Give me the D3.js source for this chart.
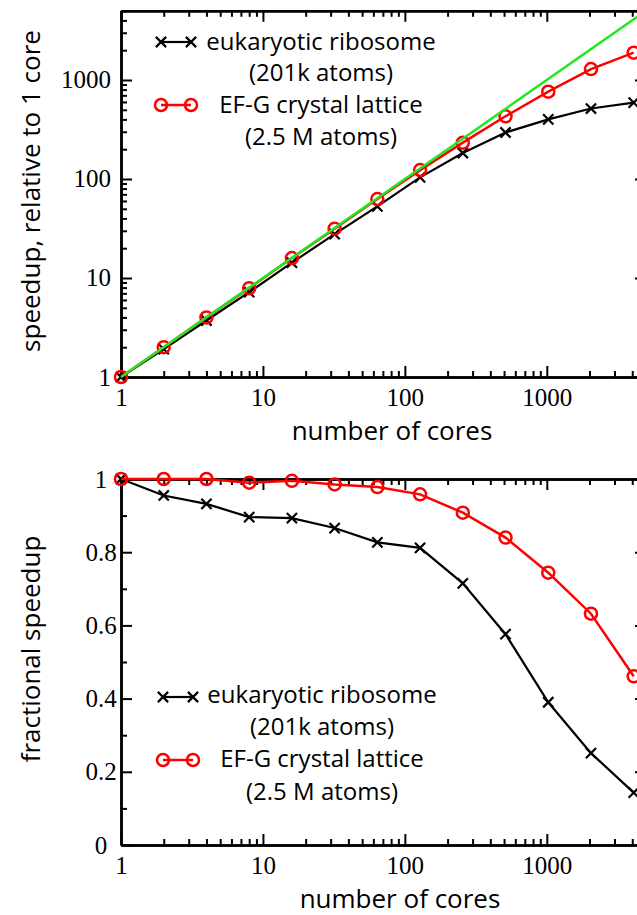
<!doctype html>
<html>
<head>
<meta charset="utf-8">
<script src="https://cdn.jsdelivr.net/npm/d3@7"></script>
<style>
  body { margin: 0; background: #fff; }
  svg { display: block; }
  .ttl { font-family: "Open Sans", sans-serif; font-size: 26px; fill: #000; }
  .leg { font-family: "Open Sans", sans-serif; font-size: 24px; fill: #000; }
</style>
</head>
<body>
<svg width="637" height="915"></svg>
<script>
// data
const cores = [1, 2, 4, 8, 16, 32, 64, 128, 256, 512, 1024, 2048, 4096];
const riboSpeedup = [1, 1.91, 3.72, 7.2, 14.3, 27.7, 52.8, 104, 183, 295, 400, 515, 590];
const latticeSpeedup = [1, 2, 4, 7.9, 15.9, 31.5, 62.7, 123, 233, 430, 763, 1290, 1890];
const riboFraction = [1, 0.955, 0.932, 0.896, 0.893, 0.866, 0.827, 0.812, 0.715, 0.576, 0.39, 0.251, 0.143];
const latticeFraction = [1, 1, 1, 0.99, 0.995, 0.985, 0.978, 0.958, 0.908, 0.84, 0.744, 0.632, 0.461];
const ideal = [1, 5000];
const logTicks = [1, 10, 100, 1000];
const fracTicks = [0, 0.2, 0.4, 0.6, 0.8, 1];
const fracMinor = [0.1, 0.3, 0.5, 0.7, 0.9];

const svg = d3.select("svg");
const L = 121, R = 646;

// minor log ticks 2..9 of each decade
function logMinor(max) {
  const out = [];
  for (let p = 1; p < max; p *= 10)
    for (let k = 2; k <= 9; k++) if (p * k <= max) out.push(p * k);
  return out;
}

function frame(x, y, yMajor, yMinor, yFmt, top, bottom, yPad, yAnchor) {
  const g = svg.append("g");
  [[d3.axisBottom, bottom, true], [d3.axisTop, top, false]].forEach(([ax, pos, lab]) => {
    g.append("g").attr("transform", `translate(0,${pos})`)
      .call(ax(x).tickValues(logMinor(5000)).tickSize(-6).tickSizeOuter(0).tickFormat(""));
    g.append("g").attr("transform", `translate(0,${pos})`)
      .call(ax(x).tickValues(logTicks).tickSize(-11).tickSizeOuter(0).tickPadding(11)
        .tickFormat(lab ? d3.format("d") : ""));
  });
  [[d3.axisLeft, L, true], [d3.axisRight, R, false]].forEach(([ax, pos, lab]) => {
    g.append("g").attr("transform", `translate(${pos},0)`)
      .call(ax(y).tickValues(yMinor).tickSize(-6).tickSizeOuter(0).tickFormat(""));
    const a = g.append("g").attr("transform", `translate(${pos},0)`)
      .call(ax(y).tickValues(yMajor).tickSize(-11).tickSizeOuter(0).tickPadding(yPad)
        .tickFormat(lab ? yFmt : ""));
    if (lab) a.selectAll("text").attr("text-anchor", yAnchor);
  });
  g.selectAll(".domain").attr("stroke", "#000").attr("stroke-width", 2.5);
  g.selectAll(".tick line").attr("stroke", "#000").attr("stroke-width", 2);
  g.selectAll(".tick text").style("font-family", '"Liberation Serif", "DejaVu Serif", serif')
    .style("font-size", "25px").attr("fill", "#000");
  return g;
}

function series(x, y, ys, kind) {
  const pts = cores.map((c, i) => [x(c), y(ys[i])]);
  const col = kind === "x" ? "#000" : "#f00";
  svg.append("path").attr("d", d3.line()(pts)).attr("fill", "none")
    .attr("stroke", col).attr("stroke-width", kind === "x" ? 2.2 : 2.5);
  marks(pts, kind);
}

function marks(pts, kind) {
  if (kind === "x") {
    svg.append("g").selectAll("path").data(pts).join("path")
      .attr("transform", d => `translate(${d[0]},${d[1]})`)
      .attr("d", d3.symbol(d3.symbolX, 70)())
      .attr("fill", "none").attr("stroke", "#000").attr("stroke-width", 2.2);
  } else {
    svg.append("g").selectAll("circle").data(pts).join("circle")
      .attr("cx", d => d[0]).attr("cy", d => d[1]).attr("r", 6)
      .attr("fill", "none").attr("stroke", "#f00").attr("stroke-width", 2.5);
  }
}

function legend(x0, y0, base, cx) {
  const rows = [["x", "eukaryotic ribosome", "(201k atoms)"], ["o", "EF-G crystal lattice", "(2.5 M atoms)"]];
  rows.forEach(([k, a, b], i) => {
    const yy = y0 + i * 63;
    const col = k === "x" ? "#000" : "#f00";
    svg.append("line").attr("x1", x0).attr("x2", x0 + 30).attr("y1", yy).attr("y2", yy)
      .attr("stroke", col).attr("stroke-width", k === "x" ? 2.2 : 2.5);
    marks([[x0, yy], [x0 + 30, yy]], k);
    svg.append("text").attr("class", "leg").attr("x", cx).attr("y", base[2 * i])
      .attr("text-anchor", "middle").text(a);
    svg.append("text").attr("class", "leg").attr("x", cx).attr("y", base[2 * i + 1])
      .attr("text-anchor", "middle").text(b);
  });
}

// ---- top: speedup
const x1 = d3.scaleLog().domain([1, 5000]).range([L, R]);
const y1 = d3.scaleLog().domain([1, 5000]).range([377, 10.8]);
frame(x1, y1, logTicks, logMinor(5000), d3.format("d"), 10.8, 377, 10, "end");
series(x1, y1, riboSpeedup, "x");
series(x1, y1, latticeSpeedup, "o");
svg.append("path").attr("d", d3.line()(ideal.map(v => [x1(v), y1(v)])))
  .attr("stroke", "#1ee81e").attr("stroke-width", 2.5);
legend(161, 42, [50, 81, 113, 145], 321);
svg.append("text").attr("class", "ttl").attr("text-anchor", "middle")
  .attr("transform", "translate(40,191) rotate(-90)").text("speedup, relative to 1 core");
svg.append("text").attr("class", "ttl").attr("text-anchor", "middle")
  .attr("x", 392).attr("y", 440).text("number of cores");

// ---- bottom: fractional speedup
const x2 = d3.scaleLog().domain([1, 5000]).range([L, R]);
const y2 = d3.scaleLinear().domain([0, 1]).range([845, 479]);
frame(x2, y2, fracTicks, fracMinor, d => d3.format("~g")(d), 479, 845, 20, "middle");
series(x2, y2, riboFraction, "x");
series(x2, y2, latticeFraction, "o");
legend(163, 697, [703, 735, 767, 800], 322);
svg.append("text").attr("class", "ttl").attr("text-anchor", "middle")
  .attr("transform", "translate(40,649) rotate(-90)").text("fractional speedup");
svg.append("text").attr("class", "ttl").attr("text-anchor", "middle")
  .attr("x", 400).attr("y", 908).text("number of cores");
</script>
</body>
</html>
